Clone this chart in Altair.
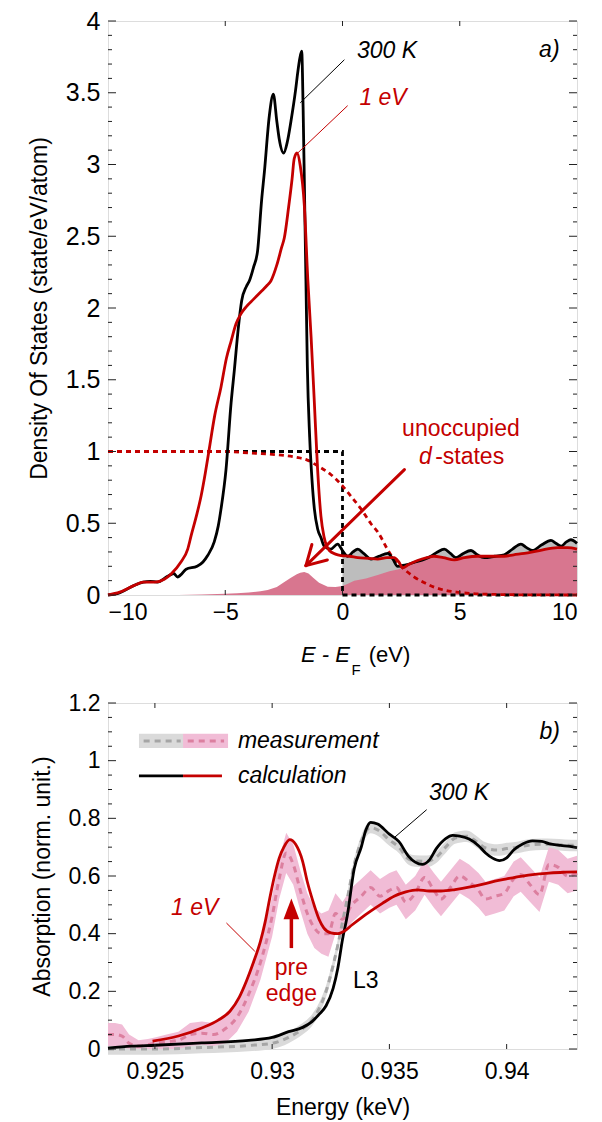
import altair as alt
import pandas as pd

FONT = "Liberation Sans"
RED = "#c40000"
PINK_FILL = "#d8768f"
GRAY_FILL = "#bdbdbd"

# ---------------- Panel a) Density of states ----------------
dos300_x = [-10, -9.6, -9.2, -8.88, -8.5, -8.2, -7.9, -7.46, -7.2, -7.03, -6.9, -6.67, -6.2, -5.95, -5.75, -5.47,
            -5.3, -5.18, -4.97, -4.75, -4.61, -4.45, -4.3, -4.1, -3.97, -3.8, -3.62, -3.45, -3.33, -3.12, -2.95,
            -2.8, -2.7, -2.51, -2.35, -2.2, -2.0, -1.91, -1.82, -1.74, -1.68, -1.62, -1.56, -1.5, -1.4, -1.3,
            -1.2, -1.06, -0.92, -0.78, -0.5, -0.21, 0.0, 0.22, 0.45, 0.65, 0.9, 1.22, 1.55, 1.93, 2.15, 2.35,
            2.7, 3.1, 3.5, 3.77, 4.05, 4.34, 4.6, 4.84, 5.15, 5.48, 5.75, 6.05, 6.5, 6.9, 7.25, 7.61, 7.85, 8.1,
            8.5, 8.89, 9.1, 9.32, 9.55, 9.74, 10.0]
dos300_y = [0.0, 0.01, 0.04, 0.067, 0.09, 0.095, 0.09, 0.13, 0.15, 0.125, 0.14, 0.18, 0.2, 0.23, 0.275, 0.37,
            0.48, 0.6, 0.87, 1.34, 1.57, 1.85, 2.05, 2.15, 2.19, 2.28, 2.4, 2.75, 2.95, 3.34, 3.49,
            3.3, 3.18, 3.08, 3.16, 3.3, 3.52, 3.64, 3.74, 3.79, 3.4, 2.8, 2.2, 1.6, 1.1, 0.8,
            0.6, 0.46, 0.4, 0.34, 0.32, 0.355, 0.31, 0.27, 0.3, 0.32, 0.29, 0.25, 0.27, 0.29, 0.25, 0.2,
            0.21, 0.23, 0.25, 0.27, 0.3, 0.32, 0.29, 0.26, 0.29, 0.31, 0.28, 0.26, 0.27, 0.28, 0.32, 0.355, 0.33, 0.31,
            0.35, 0.38, 0.36, 0.34, 0.37, 0.385, 0.36]

dos1ev_x = [-10, -9.5, -8.88, -8.5, -8.0, -7.6, -7.31, -6.89, -6.6, -6.46, -6.2, -6.03, -5.85, -5.7, -5.45, -5.18,
            -4.95, -4.75, -4.54, -4.33, -4.1, -3.8, -3.5, -3.2, -3.05, -2.8, -2.6, -2.48, -2.3, -2.15, -2.06, -1.94,
            -1.8, -1.63, -1.48, -1.34, -1.2, -1.06, -0.92, -0.78, -0.56, -0.3, -0.06, 0.3, 0.65, 1.1, 1.5, 1.9,
            2.2, 2.4, 2.57, 2.8, 3.2, 3.6, 3.9, 4.3, 4.77, 5.2, 5.77, 6.3, 6.9, 7.3, 7.75, 8.4, 9.18, 9.6, 10.0]
dos1ev_y = [0.0, 0.02, 0.067, 0.09, 0.09, 0.11, 0.147, 0.23, 0.32, 0.41, 0.57, 0.69, 0.85, 1.0, 1.25, 1.45,
            1.65, 1.77, 1.89, 1.96, 2.01, 2.06, 2.11, 2.16, 2.19, 2.3, 2.42, 2.49, 2.7, 2.9, 3.04, 3.08,
            2.99, 2.72, 2.2, 1.8, 1.34, 0.87, 0.55, 0.4, 0.31, 0.285, 0.275, 0.27, 0.26, 0.255, 0.25, 0.26,
            0.26, 0.23, 0.19, 0.21, 0.24, 0.26, 0.27, 0.26, 0.245, 0.26, 0.27, 0.27, 0.27, 0.28, 0.29, 0.31, 0.33, 0.33, 0.32]

# unoccupied states at 1 eV (pink) and 300 K (gray)
unocc1ev_x = [-10, -7, -6, -5, -4.5, -4, -3.5, -3.19, -2.8, -2.48, -2.2, -1.95, -1.8, -1.63, -1.45, -1.25, -1.0,
              -0.63, -0.3, 0.0, 0.25, 0.5, 1.0, 1.5, 2.0, 2.4, 2.64, 2.9, 3.2, 3.6, 3.9, 4.3, 4.77, 5.2, 5.77,
              6.3, 6.9, 7.3, 7.75, 8.4, 9.18, 9.6, 10.0]
unocc1ev_y = [0.0, 0.0, 0.004, 0.008, 0.012, 0.018, 0.026, 0.035, 0.055, 0.09, 0.12, 0.145, 0.155, 0.16, 0.15, 0.12, 0.085,
              0.058, 0.056, 0.062, 0.08, 0.1, 0.115, 0.14, 0.165, 0.18, 0.2, 0.21, 0.235, 0.26, 0.27, 0.26, 0.245, 0.26, 0.27,
              0.27, 0.27, 0.28, 0.29, 0.31, 0.33, 0.33, 0.32]
unocc300_x = [0.0, 0.22, 0.45, 0.65, 0.9, 1.22, 1.55, 1.93, 2.15, 2.35, 2.7, 3.1, 3.5, 3.77, 4.05, 4.34, 4.6,
              4.84, 5.15, 5.48, 5.75, 6.05, 6.5, 6.9, 7.25, 7.61, 7.85, 8.1, 8.5, 8.89, 9.1, 9.32, 9.55, 9.74, 10.0]
unocc300_y = [0.31, 0.27, 0.3, 0.32, 0.29, 0.25, 0.27, 0.29, 0.25, 0.2, 0.21, 0.23, 0.25, 0.27, 0.3, 0.32, 0.29,
              0.26, 0.29, 0.31, 0.28, 0.26, 0.27, 0.28, 0.32, 0.355, 0.33, 0.31, 0.35, 0.38, 0.36, 0.34, 0.37, 0.385, 0.36]

# occupation functions
fermi300_x = [-10, 0, 0, 10]
fermi300_y = [1, 1, 0, 0]
fermi1ev_x = [-10, -5, -4, -3, -2, -1.5, -1.06, -0.5, 0.0, 0.4, 0.79, 1.2, 1.5, 2.06, 2.5, 3.06, 3.5, 3.9, 4.4,
              4.86, 5.5, 6.5, 8.0, 10.0]
fermi1ev_y = [1.0, 1.0, 0.99, 0.98, 0.96, 0.94, 0.9, 0.84, 0.76, 0.68, 0.6, 0.5, 0.44, 0.28, 0.2, 0.125, 0.085, 0.055,
              0.032, 0.02, 0.01, 0.004, 0.001, 0.0]

top_xticks = [-10, -5, 0, 5, 10]
top_yticks = [0, 0.5, 1, 1.5, 2, 2.5, 3, 3.5, 4]
top_yminor = [round(i * 0.1, 1) for i in range(41) if i % 5 != 0]

# ---------------- Panel b) Absorption ----------------
calc300_x = [0.923, 0.924, 0.925, 0.927, 0.929, 0.930, 0.9307, 0.9313, 0.9317, 0.932, 0.9323, 0.9326, 0.9328, 0.933,
             0.9332, 0.9335, 0.9338, 0.934, 0.9342, 0.9345, 0.935, 0.9354, 0.9358, 0.9361, 0.9364, 0.9367, 0.937,
             0.9374, 0.9377, 0.938, 0.9384, 0.9388, 0.9391, 0.9394, 0.9397, 0.94, 0.9403, 0.9407, 0.9411, 0.9415,
             0.9418, 0.9423, 0.9427, 0.943]
calc300_y = [0.003, 0.01, 0.013, 0.021, 0.03, 0.04, 0.06, 0.075, 0.095, 0.12, 0.15, 0.21, 0.28, 0.38,
             0.46, 0.625, 0.70, 0.76, 0.786, 0.78, 0.745, 0.72, 0.67, 0.648, 0.64, 0.655, 0.695,
             0.73, 0.741, 0.738, 0.728, 0.705, 0.68, 0.662, 0.653, 0.663, 0.69, 0.712, 0.722, 0.72,
             0.712, 0.706, 0.703, 0.698]

meas300_x = [0.923, 0.925, 0.927, 0.929, 0.930, 0.9307, 0.9313, 0.9317, 0.932, 0.9323, 0.9326, 0.9328, 0.933, 0.9332,
             0.9335, 0.9338, 0.934, 0.9342, 0.9345, 0.935, 0.9354, 0.9358, 0.9361, 0.9366, 0.937, 0.9374, 0.9378,
             0.9383, 0.9387, 0.9391, 0.9396, 0.94, 0.9405, 0.941, 0.9415, 0.942, 0.9425, 0.943]
meas300_y = [0.0, 0.0, 0.005, 0.012, 0.02, 0.04, 0.07, 0.1, 0.14, 0.2, 0.29, 0.36, 0.44, 0.52,
             0.64, 0.72, 0.755, 0.768, 0.76, 0.725, 0.70, 0.66, 0.652, 0.651, 0.665, 0.70, 0.732,
             0.738, 0.72, 0.697, 0.69, 0.695, 0.70, 0.708, 0.71, 0.709, 0.707, 0.706]
meas300_err = 0.02

calc1ev_x = [0.9249, 0.926, 0.927, 0.9277, 0.9282, 0.9286, 0.9289, 0.9292, 0.9295, 0.9297, 0.9299, 0.9301, 0.9303,
             0.9305, 0.93075, 0.931, 0.9313, 0.9315, 0.93174, 0.932, 0.9322, 0.9325, 0.9328, 0.9331, 0.9334, 0.9338,
             0.9342, 0.9347, 0.9352, 0.9357, 0.9362, 0.9367, 0.9372, 0.9378, 0.9385, 0.939, 0.9395, 0.94, 0.9406,
             0.9412, 0.9418, 0.9424, 0.943]
calc1ev_y = [0.027, 0.045, 0.073, 0.10, 0.131, 0.18, 0.235, 0.30, 0.373, 0.44, 0.524, 0.60, 0.662,
             0.70, 0.726, 0.71, 0.651, 0.58, 0.512, 0.45, 0.42, 0.403, 0.40, 0.41, 0.43, 0.455,
             0.478, 0.505, 0.53, 0.545, 0.552, 0.548, 0.548, 0.553, 0.563, 0.572, 0.582, 0.59, 0.599,
             0.606, 0.61, 0.613, 0.614]

meas1ev_x = [0.923, 0.9233, 0.9236, 0.9239, 0.9243, 0.9247, 0.925, 0.9255, 0.926, 0.9265, 0.927, 0.9275, 0.928,
             0.9285, 0.929, 0.9295, 0.93, 0.9303, 0.9306, 0.9309, 0.9312, 0.9315, 0.9318, 0.9321, 0.9324, 0.9327,
             0.933, 0.9334, 0.9338, 0.9342, 0.9346, 0.935, 0.9353, 0.9357, 0.9361, 0.9365, 0.9369, 0.9372, 0.9376,
             0.938, 0.9384, 0.9388, 0.9391, 0.9395, 0.9399, 0.9403, 0.9406, 0.941, 0.9414, 0.9418, 0.9422, 0.9426, 0.943]
meas1ev_y = [0.05, 0.05, 0.045, 0.02, 0.01, 0.015, 0.02, 0.025, 0.03, 0.05, 0.055, 0.05, 0.07,
             0.11, 0.19, 0.30, 0.46, 0.59, 0.68, 0.64, 0.55, 0.47, 0.42, 0.40, 0.40, 0.47,
             0.45, 0.50, 0.53, 0.56, 0.53, 0.55, 0.56, 0.51, 0.54, 0.595, 0.55, 0.52, 0.56,
             0.60, 0.58, 0.55, 0.52, 0.53, 0.54, 0.59, 0.605, 0.57, 0.535, 0.64, 0.63, 0.60, 0.61]
meas1ev_err = [0.04, 0.04, 0.04, 0.03, 0.02, 0.02, 0.02, 0.025, 0.03, 0.04, 0.04, 0.04, 0.05,
               0.05, 0.06, 0.06, 0.07, 0.07, 0.07, 0.07, 0.07, 0.07, 0.07, 0.07, 0.08, 0.07,
               0.06, 0.06, 0.06, 0.06, 0.06, 0.06, 0.06, 0.06, 0.06, 0.06, 0.06, 0.06, 0.06,
               0.06, 0.06, 0.06, 0.06, 0.06, 0.06, 0.06, 0.06, 0.06, 0.06, 0.06, 0.06, 0.06, 0.06]

bot_xticks = [0.925, 0.93, 0.935, 0.94]
bot_yticks = [0, 0.2, 0.4, 0.6, 0.8, 1.0, 1.2]
bot_yminor = [round(i * 0.05, 2) for i in range(25) if i % 4 != 0]

# ---------------- helpers ----------------
TW, TH = 469, 574
BW, BH = 469, 346


def frame(x, y, **extra):
    d = {"x": x, "y": y}
    d.update(extra)
    return pd.DataFrame(d)


def axis_x(values, fs, fmt, title=None, lpad=6, tpad=10):
    return alt.Axis(values=values, format=fmt, title=title, ticks=False, domain=False, grid=False,
                    labelFont=FONT, labelFontSize=fs, labelPadding=lpad, labelColor="black",
                    titleFont=FONT, titleFontSize=23, titleFontWeight="normal", titleColor="black",
                    titlePadding=tpad)


def axis_y(values, fs, title):
    return alt.Axis(values=values, format="~g", title=title, ticks=False, domain=False, grid=False,
                    labelFont=FONT, labelFontSize=fs, labelPadding=8, labelColor="black",
                    titleFont=FONT, titleFontSize=23, titleFontWeight="normal", titleColor="black",
                    titlePadding=14)


def tick_layers(X, Y, xt, ymaj, ymin, w, h):
    mk = dict(color="#222", strokeWidth=1)
    return [
        alt.Chart(pd.DataFrame({"y": ymaj})).mark_rule(**mk).encode(y=Y, x=alt.value(0), x2=alt.value(8)),
        alt.Chart(pd.DataFrame({"y": ymaj})).mark_rule(**mk).encode(y=Y, x=alt.value(w - 8), x2=alt.value(w)),
        alt.Chart(pd.DataFrame({"y": ymin})).mark_rule(**mk).encode(y=Y, x=alt.value(0), x2=alt.value(4)),
        alt.Chart(pd.DataFrame({"y": ymin})).mark_rule(**mk).encode(y=Y, x=alt.value(w - 4), x2=alt.value(w)),
        alt.Chart(pd.DataFrame({"x": xt})).mark_rule(**mk).encode(x=X, y=alt.value(0), y2=alt.value(5)),
        alt.Chart(pd.DataFrame({"x": xt})).mark_rule(**mk).encode(x=X, y=alt.value(h - 5), y2=alt.value(h)),
    ]


def text_layer(df, color="black", italic=False, align="center", size=23):
    return alt.Chart(df).mark_text(font=FONT, fontSize=size, color=color, align=align, baseline="middle",
                                   fontStyle="italic" if italic else "normal")


def seg(df, X, Y, color, width, dash=None, cap="butt"):
    kw = dict(color=color, strokeWidth=width, strokeCap=cap)
    if dash:
        kw["strokeDash"] = dash
    enc = dict(x=X, y=Y)
    if "x2" in df.columns:
        enc["x2"] = "x2:Q"
    if "y2" in df.columns:
        enc["y2"] = "y2:Q"
    return alt.Chart(df).mark_rule(**kw).encode(**enc)


# ---------------- top panel ----------------
Xa = alt.X("x:Q", scale=alt.Scale(domain=[-10, 10], nice=False, zero=False), axis=axis_x(top_xticks, 23, "d"))
Ya = alt.Y("y:Q", scale=alt.Scale(domain=[0, 4], nice=False), axis=axis_y(top_yticks, 25,
                                                                         "Density Of States (state/eV/atom)"))

gray_area = alt.Chart(frame(unocc300_x, unocc300_y)).mark_area(
    color=GRAY_FILL, opacity=1).encode(x=Xa, y=Ya)
pink_area = alt.Chart(frame(unocc1ev_x, unocc1ev_y)).mark_area(color=PINK_FILL, opacity=1).encode(x=Xa, y=Ya)
step300 = alt.Chart(frame(fermi300_x, fermi300_y, i=[0, 1, 2, 3])).mark_line(
    color="black", strokeWidth=2.8, strokeDash=[5, 4]).encode(x=Xa, y=Ya, order="i:Q")
fermi1 = alt.Chart(frame(fermi1ev_x, fermi1ev_y)).mark_line(
    color=RED, strokeWidth=2.8, strokeDash=[5, 4], interpolate="monotone").encode(x=Xa, y=Ya)
line300 = alt.Chart(frame(dos300_x, dos300_y)).mark_line(color="black", strokeWidth=2.8,
                                                          interpolate="monotone").encode(x=Xa, y=Ya)
line1ev = alt.Chart(frame(dos1ev_x, dos1ev_y)).mark_line(color=RED, strokeWidth=2.8,
                                                          interpolate="monotone").encode(x=Xa, y=Ya)

# annotations for panel a
arrow_a = pd.DataFrame({"x": [2.64, -1.56, -1.56], "y": [0.874, 0.205, 0.205],
                        "x2": [-1.56, -0.648, -1.305], "y2": [0.205, 0.244, 0.352]})
arrow_a_layer = seg(arrow_a, Xa, Ya, RED, 3, cap="round")
lead_a_k = seg(pd.DataFrame({"x": [0.08], "y": [3.73], "x2": [-1.8], "y2": [3.43]}), Xa, Ya, "black", 1)
lead_a_r = seg(pd.DataFrame({"x": [0.22], "y": [3.41], "x2": [-1.91], "y2": [3.08]}), Xa, Ya, RED, 1)

t300a = text_layer(pd.DataFrame({"x": [0.62], "y": [3.79], "t": ["300 K"]}), italic=True, align="left").encode(
    x=Xa, y=Ya, text="t:N")
t1eva = text_layer(pd.DataFrame({"x": [0.72], "y": [3.46], "t": ["1 eV"]}), color=RED, italic=True,
                   align="left").encode(x=Xa, y=Ya, text="t:N")
tlabel_a = text_layer(pd.DataFrame({"x": [8.82], "y": [3.8], "t": ["a)"]}), italic=True).encode(
    x=Xa, y=Ya, text="t:N")
tunocc = text_layer(pd.DataFrame({"x": [5.05], "y": [1.16], "t": ["unoccupied"]}), color=RED).encode(
    x=Xa, y=Ya, text="t:N")
td = text_layer(pd.DataFrame({"x": [3.26], "y": [0.965], "t": ["d"]}), color=RED, italic=True,
                align="left").encode(x=Xa, y=Ya, text="t:N")
tstates = text_layer(pd.DataFrame({"x": [3.95], "y": [0.965], "t": ["-states"]}), color=RED,
                     align="left").encode(x=Xa, y=Ya, text="t:N")

# x-axis title E - E_F (eV), drawn below the plot
tE = text_layer(pd.DataFrame({"x": [-1.77], "t": ["E - E"]}), italic=True, align="left", size=22).encode(
    x=Xa, y=alt.value(TH + 60), text="t:N")
tF = text_layer(pd.DataFrame({"x": [0.58], "t": ["F"]}), size=15).encode(
    x=Xa, y=alt.value(TH + 75), text="t:N")
teV = text_layer(pd.DataFrame({"x": [1.12], "t": ["(eV)"]}), align="left", size=22).encode(
    x=Xa, y=alt.value(TH + 60), text="t:N")

top = alt.layer(
    gray_area, pink_area, step300, fermi1, line300, line1ev, arrow_a_layer, lead_a_k, lead_a_r,
    t300a, t1eva, tlabel_a, tunocc, td, tstates, tE, tF, teV,
    *tick_layers(Xa, Ya, [-5, 0, 5], top_yticks, top_yminor, TW, TH)
).properties(width=TW, height=TH)

# ---------------- bottom panel ----------------
Xb = alt.X("x:Q", scale=alt.Scale(domain=[0.923, 0.943], nice=False, zero=False),
           axis=axis_x(bot_xticks, 23, "~g", "Energy (keV)", lpad=11, tpad=13))
ybscale = alt.Scale(domain=[0, 1.2], nice=False)
ybaxis = axis_y(bot_yticks, 23, "Absorption (norm. unit.)")
Yb = alt.Y("y:Q", scale=ybscale, axis=ybaxis)

m300 = pd.DataFrame({"x": meas300_x, "y": meas300_y,
                     "lo": [v - meas300_err for v in meas300_y], "hi": [v + meas300_err for v in meas300_y]})
m1 = pd.DataFrame({"x": meas1ev_x, "y": meas1ev_y,
                   "lo": [max(0, v - e) for v, e in zip(meas1ev_y, meas1ev_err)],
                   "hi": [v + e for v, e in zip(meas1ev_y, meas1ev_err)]})

band300 = alt.Chart(m300).mark_area(color="#dadada", opacity=1, interpolate="monotone").encode(
    x=Xb, y=alt.Y("lo:Q", scale=ybscale, axis=ybaxis), y2="hi:Q")
band1 = alt.Chart(m1).mark_area(color="#f1bcd6", opacity=1).encode(
    x=Xb, y=alt.Y("lo:Q", scale=ybscale, axis=ybaxis), y2="hi:Q")
dash300 = alt.Chart(m300).mark_line(color="#a5a5a5", strokeWidth=3, strokeDash=[6, 5],
                                    interpolate="monotone").encode(x=Xb, y=Yb)
dash1 = alt.Chart(m1).mark_line(color="#dc7f9f", strokeWidth=3, strokeDash=[6, 5],
                                interpolate="monotone").encode(x=Xb, y=Yb)
calc300 = alt.Chart(frame(calc300_x, calc300_y)).mark_line(color="black", strokeWidth=2.8,
                                                           interpolate="monotone").encode(x=Xb, y=Yb)
calc1 = alt.Chart(frame(calc1ev_x, calc1ev_y)).mark_line(color=RED, strokeWidth=2.8,
                                                         interpolate="monotone").encode(x=Xb, y=Yb)

# legend drawn inside panel b
leg_box_g = alt.Chart(pd.DataFrame({"x": [0.92432], "x2": [0.9262], "y": [1.044], "y2": [1.093]})).mark_rect(
    color="#dadada").encode(x=Xb, x2="x2:Q", y=Yb, y2="y2:Q")
leg_box_p = alt.Chart(pd.DataFrame({"x": [0.9262], "x2": [0.92812], "y": [1.044], "y2": [1.093]})).mark_rect(
    color="#f1bcd6").encode(x=Xb, x2="x2:Q", y=Yb, y2="y2:Q")
leg_dash_g = seg(pd.DataFrame({"x": [0.92452], "x2": [0.9261], "y": [1.068]}), Xb, Yb, "#a5a5a5", 3, [6, 5])
leg_dash_p = seg(pd.DataFrame({"x": [0.9264], "x2": [0.92795], "y": [1.068]}), Xb, Yb, "#dc7f9f", 3, [6, 5])
leg_line_k = seg(pd.DataFrame({"x": [0.92432], "x2": [0.9262], "y": [0.947]}), Xb, Yb, "black", 2.8)
leg_line_r = seg(pd.DataFrame({"x": [0.9262], "x2": [0.92786], "y": [0.947]}), Xb, Yb, RED, 2.8)
leg_text = text_layer(pd.DataFrame({"x": [0.92854, 0.92854], "y": [1.068, 0.947],
                                    "t": ["measurement", "calculation"]}), italic=True, align="left").encode(
    x=Xb, y=Yb, text="t:N")

lead_b_k = seg(pd.DataFrame({"x": [0.93659], "y": [0.83], "x2": [0.93522], "y2": [0.734]}), Xb, Yb, "black", 1)
lead_b_r = seg(pd.DataFrame({"x": [0.92805], "y": [0.437], "x2": [0.92926], "y2": [0.339]}), Xb, Yb, RED, 1)

arrow_b_layer = seg(pd.DataFrame({"x": [0.93082], "y": [0.35], "y2": [0.49]}), Xb, Yb, RED, 3.5)
head_b = alt.Chart(pd.DataFrame({"x": [0.93082], "y": [0.486]})).mark_point(
    shape="M0,-1L0.75,1L-0.75,1Z", filled=True, size=440, color=RED, opacity=1, strokeWidth=0).encode(x=Xb, y=Yb)

t300b = text_layer(pd.DataFrame({"x": [0.93797], "y": [0.888], "t": ["300 K"]}), italic=True).encode(
    x=Xb, y=Yb, text="t:N")
t1evb = text_layer(pd.DataFrame({"x": [0.9267], "y": [0.489], "t": ["1 eV"]}), color=RED, italic=True).encode(
    x=Xb, y=Yb, text="t:N")
tpre = text_layer(pd.DataFrame({"x": [0.93082, 0.93082], "y": [0.28, 0.19], "t": ["pre", "edge"]}),
                  color=RED).encode(x=Xb, y=Yb, text="t:N")
tL3 = text_layer(pd.DataFrame({"x": [0.93345], "y": [0.236], "t": ["L3"]}), align="left").encode(
    x=Xb, y=Yb, text="t:N")
tlabel_b = text_layer(pd.DataFrame({"x": [0.94184], "y": [1.10], "t": ["b)"]}), italic=True).encode(
    x=Xb, y=Yb, text="t:N")

bottom = alt.layer(
    band300, band1, dash300, dash1, calc300, calc1,
    leg_box_g, leg_box_p, leg_dash_g, leg_dash_p, leg_line_k, leg_line_r, leg_text,
    lead_b_k, lead_b_r, arrow_b_layer, head_b, t300b, t1evb, tpre, tL3, tlabel_b,
    *tick_layers(Xb, Yb, bot_xticks, bot_yticks, bot_yminor, BW, BH)
).properties(width=BW, height=BH)

chart = alt.vconcat(top, bottom, spacing=12).properties(
    padding={"left": 19, "top": 0, "right": 5, "bottom": 0}
).configure_view(stroke="#222", strokeWidth=1).configure(font=FONT)

chart.save("out.html", embed_options={"renderer": "svg", "actions": False})
